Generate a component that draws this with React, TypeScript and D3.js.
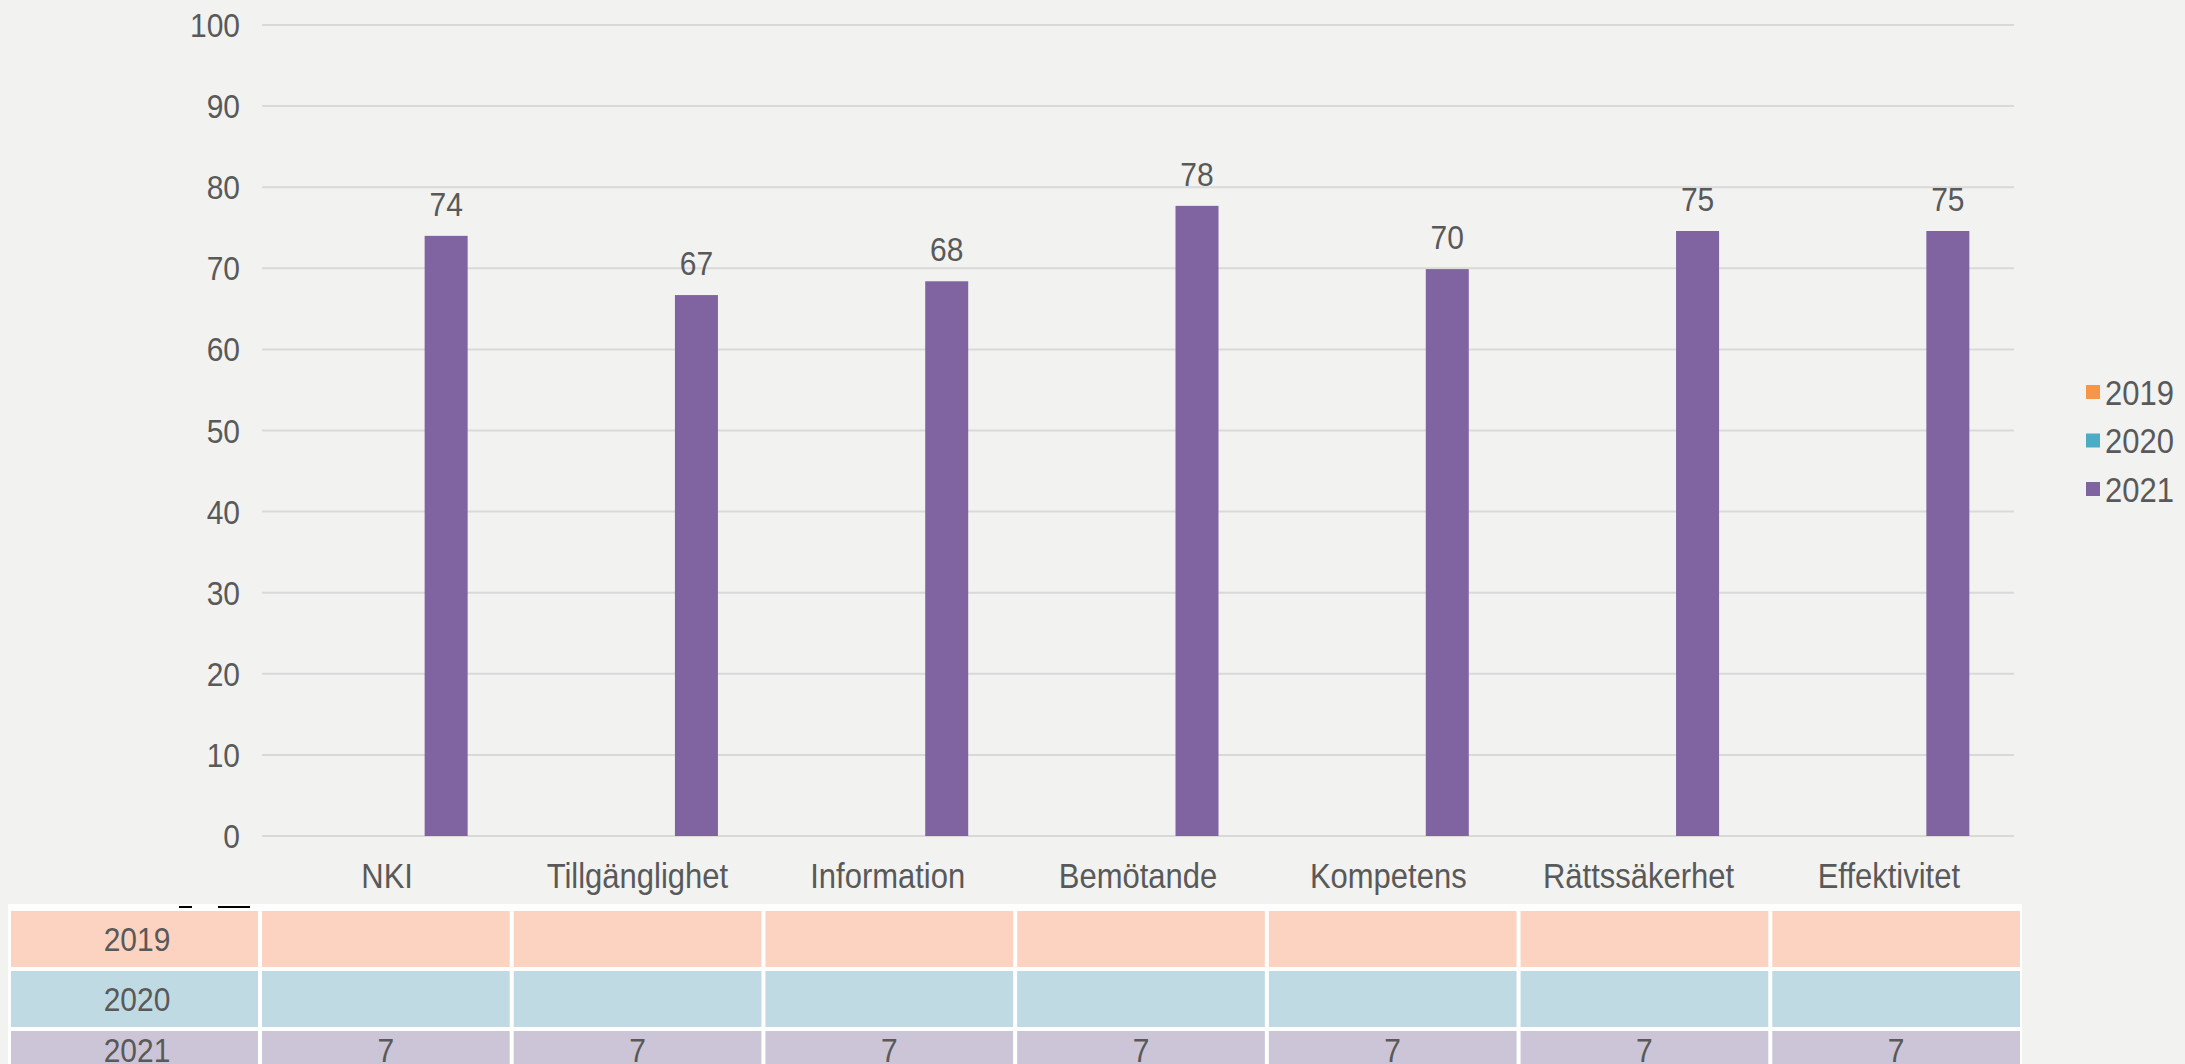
import React from "react";
import * as d3 from "d3";

const categories = ["NKI", "Tillgänglighet", "Information", "Bemötande", "Kompetens", "Rättssäkerhet", "Effektivitet"];
const seriesNames = ["2019", "2020", "2021"];
const values2019: (number | null)[] = [null, null, null, null, null, null, null];
const values2020: (number | null)[] = [null, null, null, null, null, null, null];
const values2021: (number | null)[] = [74, 66.7, 68.4, 77.7, 69.9, 74.6, 74.6];
const table2019 = ["", "", "", "", "", "", ""];
const table2020 = ["", "", "", "", "", "", ""];
const table2021 = ["7", "7", "7", "7", "7", "7", "7"];
const yTicks = [0, 10, 20, 30, 40, 50, 60, 70, 80, 90, 100];

const seriesColors = ["#F79646", "#4BACC6", "#8064A2"];
const rowColors = ["#FCD3C1", "#C0DAE3", "#CCC5D7"];
const W = 2185;
const H = 1064;
const BG = "#F2F2F1";
const TXT = "#595959";
const FONT = "'Liberation Sans', Arial, sans-serif";
const SY = 1.12;

function T(props: {
  x: number;
  y: number;
  size: number;
  anchor?: "start" | "middle" | "end";
  mid?: boolean;
  children: React.ReactNode;
}) {
  const { x, y, size, anchor = "start", mid = false, children } = props;
  return (
    <text
      transform={`translate(${x},${y}) scale(1,${SY})`}
      x={0}
      y={0}
      dy={mid ? "0.36em" : undefined}
      textAnchor={anchor}
      fontSize={size}
      fill={TXT}
    >
      {children}
    </text>
  );
}

export default function App() {
  const seriesValues = [values2019, values2020, values2021];
  const tableRows = [table2019, table2020, table2021];

  const x = d3.scaleBand<string>().domain(categories).range([262, 2014]).padding(0);
  const sub = d3.scaleBand<string>().domain(seriesNames).range([-80.5, 80.5]).paddingInner(0.271).paddingOuter(0);
  const y = d3.scaleLinear().domain([0, 100]).range([836, 25]);

  const tx = d3.scaleBand<string>().domain(categories).range([260, 2022]).padding(0);
  const rowY = d3.scaleBand<string>().domain(seriesNames).range([907, 1087]).paddingInner(0);

  return (
    <div style={{ position: "fixed", left: 0, top: 0, width: W, height: H, background: BG }}>
      <svg width={W} height={H} style={{ display: "block" }} fontFamily={FONT}>
        <rect x={0} y={0} width={W} height={H} fill={BG} />
        {/* gridlines */}
        {yTicks.map((t) => (
          <g key={t}>
            <line x1={262} x2={2014} y1={y(t)} y2={y(t)} stroke="#D9D9D9" strokeWidth={2} />
            <T x={240} y={y(t)} size={30} anchor="end" mid>
              {t}
            </T>
          </g>
        ))}
        {/* bars */}
        {seriesValues.map((vals, si) =>
          vals.map((v, ci) => {
            if (v == null) return null;
            const cx = (x(categories[ci]) as number) + x.bandwidth() / 2 + (sub(seriesNames[si]) as number);
            return (
              <g key={`${si}-${ci}`}>
                <rect x={cx} y={y(v)} width={sub.bandwidth()} height={y(0) - y(v)} fill={seriesColors[si]} />
                <T x={cx + sub.bandwidth() / 2} y={y(v) - 20} size={30} anchor="middle">
                  {Math.round(v)}
                </T>
              </g>
            );
          })
        )}
        {/* category labels */}
        {categories.map((c) => (
          <T key={c} x={(x(c) as number) + x.bandwidth() / 2} y={888} size={31} anchor="middle">
            {c}
          </T>
        ))}
        {/* legend */}
        {seriesNames.map((s, i) => (
          <g key={s} transform={`translate(2086, ${392 + i * 48.5})`}>
            <rect x={0} y={-7} width={14} height={14} fill={seriesColors[i]} />
            <T x={19} y={0} size={31} mid>
              {s}
            </T>
          </g>
        ))}
        {/* data table */}
        <rect x={8} y={904} width={2022 - 8} height={H - 904} fill="#FFFFFF" />
        <line x1={179} x2={192} y1={907} y2={907} stroke="#000" strokeWidth={2} />
        <line x1={218} x2={250} y1={907} y2={907} stroke="#000" strokeWidth={2} />
        {seriesNames.map((s, ri) => {
          const ry = (rowY(s) as number) + 4;
          const rh = rowY.bandwidth() - 4;
          const ty = Math.min(ry + rh / 2, 1050);
          return (
            <g key={s}>
              <rect x={11} y={ry} width={260 - 11 - 2} height={rh} fill={rowColors[ri]} />
              <T x={137} y={ty} size={30} anchor="middle" mid>
                {s}
              </T>
              {categories.map((c, ci) => (
                <g key={c}>
                  <rect x={(tx(c) as number) + 2} y={ry} width={tx.bandwidth() - 4} height={rh} fill={rowColors[ri]} />
                  <T x={(tx(c) as number) + tx.bandwidth() / 2} y={ty} size={30} anchor="middle" mid>
                    {tableRows[ri][ci]}
                  </T>
                </g>
              ))}
            </g>
          );
        })}
      </svg>
    </div>
  );
}
